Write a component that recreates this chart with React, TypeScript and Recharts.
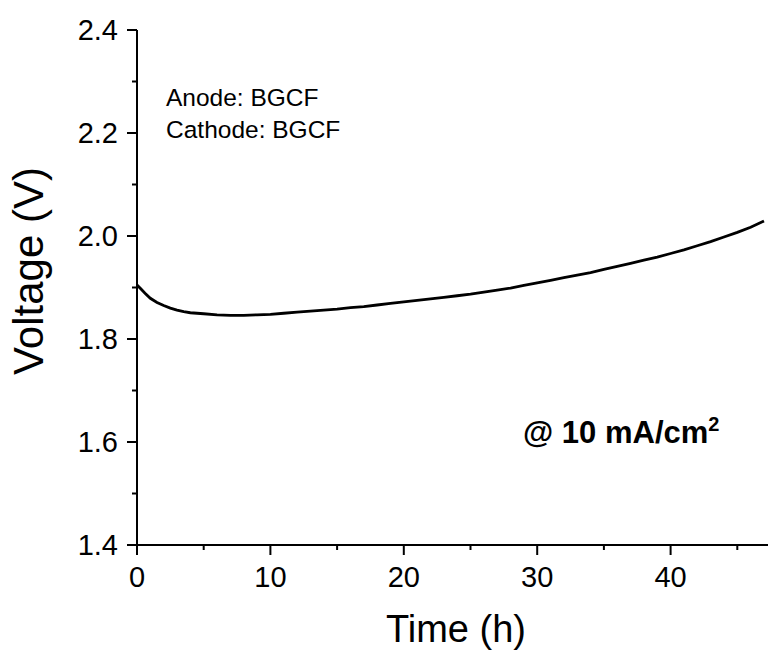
import React from 'react';
import { LineChart, Line, XAxis, YAxis } from 'recharts';

const timeH = [0, 0.3, 0.6, 1.0, 1.5, 2.0, 2.5, 3.0, 3.5, 4.0, 5.0, 6.0, 7.0, 8.0, 9.0, 10.0, 11.0, 12.0, 13.0, 14.0, 15.0, 16.0, 17.0, 18.0, 19.0, 20.0, 21.0, 22.0, 23.0, 24.0, 25.0, 26.0, 27.0, 28.0, 29.0, 30.0, 31.0, 32.0, 33.0, 34.0, 35.0, 36.0, 37.0, 38.0, 39.0, 40.0, 41.0, 42.0, 43.0, 44.0, 45.0, 46.0, 47.0];
const voltage = [1.905, 1.897, 1.889, 1.879, 1.871, 1.865, 1.860, 1.856, 1.853, 1.851, 1.849, 1.847, 1.846, 1.846, 1.847, 1.848, 1.850, 1.852, 1.854, 1.856, 1.858, 1.861, 1.863, 1.866, 1.869, 1.872, 1.875, 1.878, 1.881, 1.884, 1.887, 1.891, 1.895, 1.899, 1.904, 1.909, 1.914, 1.919, 1.924, 1.929, 1.935, 1.941, 1.947, 1.953, 1.959, 1.966, 1.973, 1.981, 1.989, 1.998, 2.007, 2.017, 2.029];

const xTicks = [0, 5, 10, 15, 20, 25, 30, 35, 40, 45];
const yTicks = [1.4, 1.5, 1.6, 1.7, 1.8, 1.9, 2.0, 2.1, 2.2, 2.3, 2.4];
const xMajorStep = 10;

const annotationLines = ['Anode: BGCF', 'Cathode: BGCF'];
const currentLabel = '@ 10 mA/cm';
const currentSup = '2';
const xTitle = 'Time (h)';
const yTitle = 'Voltage (V)';

const data = timeH.map((t, i) => ({ t, v: voltage[i] }));

const FONT = '"Liberation Sans", Arial, Helvetica, sans-serif';

const XTick = (props: any) => {
  const { x, y, payload } = props;
  const major = Math.round(payload.value) % xMajorStep === 0;
  return (
    <g>
      <line x1={x} y1={y} x2={x} y2={y + (major ? 10 : 5)} stroke="#000" strokeWidth={2} />
      {major && (
        <text x={x} y={y + 42} textAnchor="middle" fontSize={29} fontFamily={FONT} fill="#000">
          {payload.value}
        </text>
      )}
    </g>
  );
};

const YTick = (props: any) => {
  const { x, y, payload } = props;
  const major = Math.round(payload.value * 10) % 2 === 0;
  return (
    <g>
      <line x1={x - (major ? 10 : 5)} y1={y} x2={x} y2={y} stroke="#000" strokeWidth={2} />
      {major && (
        <text x={x - 19} y={y} dy="0.355em" textAnchor="end" fontSize={29} fontFamily={FONT} fill="#000">
          {Number(payload.value).toFixed(1)}
        </text>
      )}
    </g>
  );
};

const XTitle = () => (
  <text x={456} y={642} textAnchor="middle" fontSize={38} fontFamily={FONT} fill="#000">
    {xTitle}
  </text>
);

const YTitleAndNotes = () => (
  <g>
    <text x={43} y={271} textAnchor="middle" fontSize={42} fontFamily={FONT} fill="#000" transform="rotate(-90, 43, 271)">
      {yTitle}
    </text>
    <g fontFamily={FONT} fill="#000">
      {annotationLines.map((s, i) => (
        <text key={s} x={166} y={106 + i * 32} fontSize={24.5}>
          {s}
        </text>
      ))}
      <text x={523} y={443} fontSize={31} fontWeight="bold">
        {currentLabel}
        <tspan fontSize={20} dy={-12}>{currentSup}</tspan>
      </text>
    </g>
  </g>
);

export default function App() {
  return (
    <div style={{ position: 'absolute', left: 0, top: 0, width: 768, height: 651, overflow: 'hidden', background: '#fff' }}>
      <LineChart width={804} height={651} data={data} margin={{ top: 30, right: 0, bottom: 0, left: 0 }}>
        <XAxis
          dataKey="t"
          type="number"
          domain={[0, 50]}
          ticks={xTicks}
          interval={0}
          tickSize={0}
          tickMargin={0}
          tickLine={false}
          tick={<XTick />}
          height={106}
          axisLine={{ stroke: '#000', strokeWidth: 2 }}
          label={{ content: () => <XTitle /> }}
        />
        <XAxis
          xAxisId="top"
          orientation="top"
          dataKey="t"
          type="number"
          domain={[0, 50]}
          tick={false}
          tickLine={false}
          height={0}
          axisLine={{ stroke: '#000', strokeWidth: 2 }}
        />
        <YAxis
          type="number"
          domain={[1.4, 2.4]}
          ticks={yTicks}
          interval={0}
          tickSize={0}
          tickMargin={0}
          tickLine={false}
          tick={<YTick />}
          width={137}
          axisLine={{ stroke: '#000', strokeWidth: 2 }}
          label={{ content: () => <YTitleAndNotes /> }}
        />
        <Line
          type="linear"
          dataKey="v"
          stroke="#000"
          strokeWidth={2.8}
          dot={false}
          isAnimationActive={false}
        />
      </LineChart>
    </div>
  );
}
